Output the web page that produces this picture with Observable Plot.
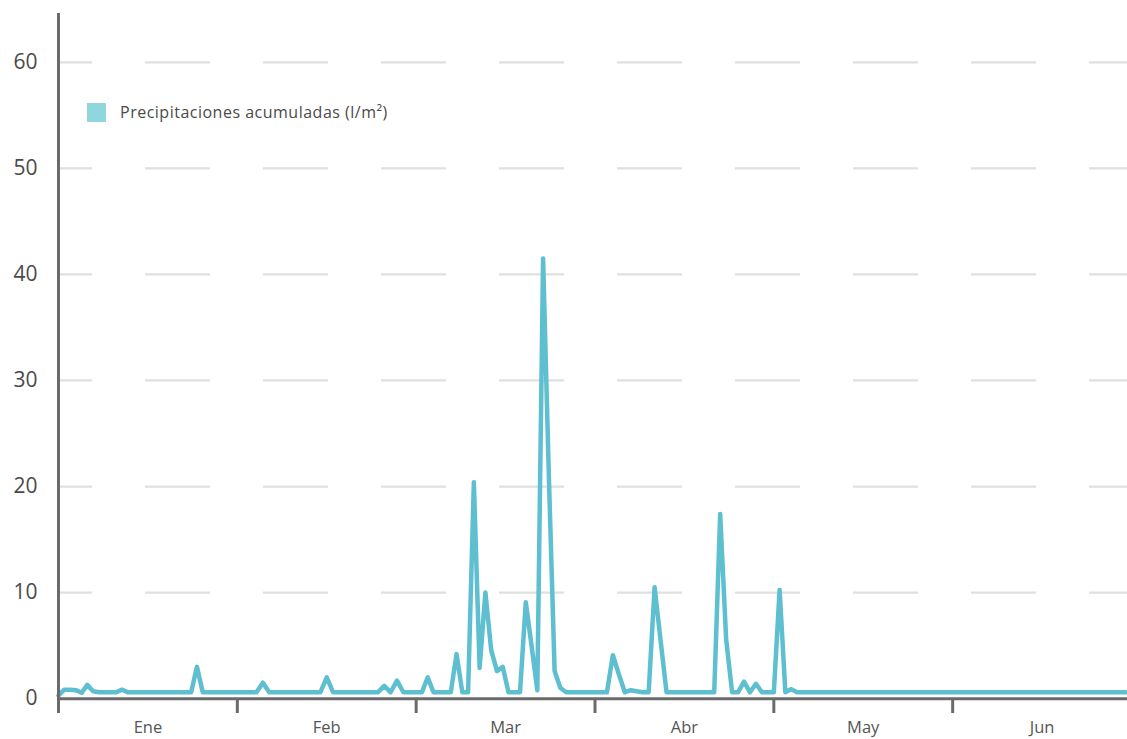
<!DOCTYPE html>
<html lang="es">
<head>
<meta charset="utf-8">
<script src="https://cdn.jsdelivr.net/npm/d3@7"></script>
<script src="https://cdn.jsdelivr.net/npm/@observablehq/plot@0.6"></script>
<style>
  html, body { margin: 0; padding: 0; background: #fff; }
  #wrap { position: relative; width: 1127px; height: 739px; overflow: hidden; background: #fff; font-family: 'Open Sans', sans-serif; }
  #legend { position: absolute; left: 87px; top: 101px; display: flex; align-items: center; font-family: 'Open Sans', sans-serif; font-size: 16px; letter-spacing: 0.5px; color: #4a4a4a; }
  #legend .sw { width: 19px; height: 19px; background: #8fd6df; margin-right: 14px; }
  #chart { position: absolute; left: 0; top: 0; }
</style>
</head>
<body>
<div id="wrap">
  <div id="chart"></div>
  <div id="legend"><div class="sw"></div><span>Precipitaciones acumuladas (l/m²)</span></div>
</div>
<script>
// Month labels (x axis)
const months = ["Ene", "Feb", "Mar", "Abr", "May", "Jun"];
// Y tick labels
const yTicks = [0, 10, 20, 30, 40, 50, 60];

// Daily accumulated precipitation (l/m²)
const ene = [0.3, 0.85, 0.85, 0.8, 0.55, 1.3, 0.7, 0.6, 0.6, 0.6, 0.6, 0.85, 0.6, 0.6, 0.6, 0.6,
             0.6, 0.6, 0.6, 0.6, 0.6, 0.6, 0.6, 0.6, 3.0, 0.6, 0.6, 0.6, 0.6, 0.6, 0.6];
const feb = [0.6, 0.6, 0.6, 0.6, 1.5, 0.6, 0.6, 0.6, 0.6, 0.6, 0.6, 0.6, 0.6, 0.6, 2.0, 0.6,
             0.6, 0.6, 0.6, 0.6, 0.6, 0.6, 0.6, 1.2, 0.6, 1.7, 0.6, 0.6];
const mar = [0.6, 0.6, 2.0, 0.6, 0.6, 0.6, 0.6, 4.2, 0.6, 0.6, 20.4, 2.9, 10.0, 4.6, 2.6, 3.0,
             0.6, 0.6, 0.6, 9.1, 5.0, 0.8, 41.5, 21.0, 2.6, 1.0, 0.6, 0.6, 0.6, 0.6, 0.6];
const abr = [0.6, 0.6, 0.6, 4.1, 2.3, 0.6, 0.8, 0.7, 0.6, 0.6, 10.5, 5.5, 0.6, 0.6, 0.6, 0.6,
             0.6, 0.6, 0.6, 0.6, 0.6, 17.4, 5.6, 0.6, 0.6, 1.6, 0.6, 1.4, 0.6, 0.6];
const may = [0.6, 10.25, 0.6, 0.9, 0.6, 0.6, 0.6, 0.6, 0.6, 0.6, 0.6, 0.6, 0.6, 0.6, 0.6, 0.6,
             0.6, 0.6, 0.6, 0.6, 0.6, 0.6, 0.6, 0.6, 0.6, 0.6, 0.6, 0.6, 0.6, 0.6, 0.6];
const jun = [0.6, 0.6, 0.6, 0.6, 0.6, 0.6, 0.6, 0.6, 0.6, 0.6, 0.6, 0.6, 0.6, 0.6, 0.6, 0.6,
             0.6, 0.6, 0.6, 0.6, 0.6, 0.6, 0.6, 0.6, 0.6, 0.6, 0.6, 0.6, 0.6, 0.6];

const monthly = [ene, feb, mar, abr, may, jun];
// every month gets the same width; each day is placed within its month
const data = monthly.flatMap((vals, m) => vals.map((v, d) => ({pos: m + d / vals.length, value: v})));
const monthStarts = months.map((_, i) => i);
const monthMids = months.map((_, i) => i + 0.5);

const axisColor = "#6b6b6b";
const chart = Plot.plot({
  width: 1127,
  height: 739,
  marginLeft: 58,
  marginRight: 0,
  marginTop: 13,
  marginBottom: 26,
  x: {domain: [0, 6], range: [58, 1131], axis: null},
  y: {domain: [-1.4, 64.6], axis: null},
  style: {fontFamily: "'Open Sans', sans-serif", background: "transparent", overflow: "visible"},
  marks: [
    Plot.ruleY(yTicks.filter(d => d > 0), {stroke: "#e0e0e0", strokeWidth: 2.2, strokeDasharray: "65,53", strokeDashoffset: 31}),
    Plot.line(data, {x: "pos", y: "value", stroke: "#5dbfd0", strokeWidth: 4.5}),
    Plot.ruleY([0], {stroke: axisColor, strokeWidth: 3}),
    Plot.ruleX([0], {stroke: axisColor, strokeWidth: 3}),
    Plot.ruleX(monthStarts.slice(1), {y1: 0, y2: -1.4, stroke: axisColor, strokeWidth: 3}),
    Plot.axisY({ticks: yTicks, tickSize: 0, tickPadding: 21, fontSize: 21, color: "#4a4a4a", label: null}),
    Plot.axisX({ticks: monthMids, tickSize: 0, tickPadding: 8, fontSize: 16.5, color: "#555", label: null,
                tickFormat: d => months[Math.floor(d)]})
  ]
});
document.getElementById("chart").appendChild(chart);
</script>
</body>
</html>
